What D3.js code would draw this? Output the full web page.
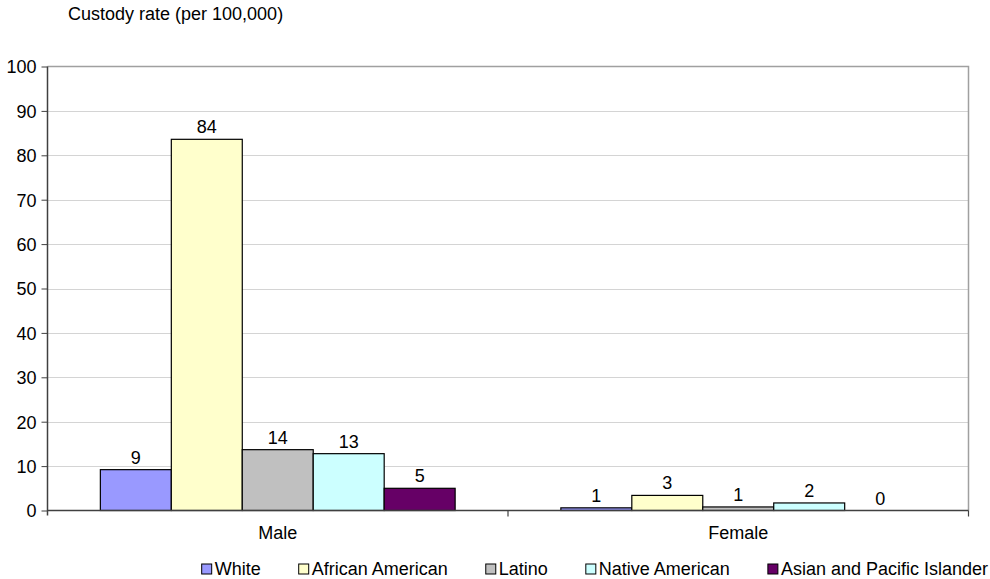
<!DOCTYPE html>
<html>
<head>
<meta charset="utf-8">
<script src="https://cdn.jsdelivr.net/npm/d3@7"></script>
<style>
  html, body { margin: 0; padding: 0; background: #fff; }
  text { font-family: "Liberation Sans", Arial, sans-serif; fill: #000; }
</style>
</head>
<body>
<svg id="chart" width="990" height="579"></svg>
<script>
const categories = ["Male", "Female"];
const seriesNames = ["White", "African American", "Latino", "Native American", "Asian and Pacific Islander"];
const seriesColors = ["#9999FF", "#FFFFCC", "#C0C0C0", "#CCFFFF", "#660066"];
const white = [9.2, 0.6];
const africanAmerican = [83.6, 3.4];
const latino = [13.7, 0.8];
const nativeAmerican = [12.8, 1.7];
const asianPacific = [5.0, 0.0];
const yTicks = [0, 10, 20, 30, 40, 50, 60, 70, 80, 90, 100];
const yTitle = "Custody rate (per 100,000)";

const seriesValues = [white, africanAmerican, latino, nativeAmerican, asianPacific];

const svg = d3.select("#chart");
const fs = 18;
const L = 47.5, R = 968.5, T = 66.5, B = 510.5;

const y = d3.scaleLinear().domain([0, 100]).range([B, T]);
const x0 = d3.scaleBand().domain(categories).range([L, R]).padding(0);
const x1 = d3.scaleBand().domain(seriesNames).range([0, x0.bandwidth()]).paddingInner(0).paddingOuter(0.745);

// title
svg.append("text").attr("x", 68).attr("y", 20).attr("font-size", fs).text(yTitle);

// gridlines
svg.append("g").selectAll("line").data(yTicks.filter(d => d > 0 && d < 100)).join("line")
  .attr("x1", L).attr("x2", R)
  .attr("y1", d => Math.round(y(d)) + 0.5).attr("y2", d => Math.round(y(d)) + 0.5)
  .attr("stroke", "#d4d4d4").attr("stroke-width", 1);

// plot border top/right
svg.append("path")
  .attr("d", `M${L},${T}H${R}V${B}`)
  .attr("fill", "none").attr("stroke", "#a0a0a0").attr("stroke-width", 1.5);

// bars
const groups = svg.append("g").selectAll("g").data(categories).join("g")
  .attr("transform", d => `translate(${x0(d)},0)`);

groups.selectAll("rect")
  .data((c, ci) => seriesNames.map((s, si) => ({ s, si, v: seriesValues[si][ci] })))
  .join("rect")
  .attr("x", d => x1(d.s))
  .attr("y", d => y(d.v))
  .attr("width", x1.bandwidth())
  .attr("height", d => B - y(d.v))
  .attr("fill", d => seriesColors[d.si])
  .attr("stroke", "#000").attr("stroke-width", 1.2);

groups.selectAll("text.lbl")
  .data((c, ci) => seriesNames.map((s, si) => ({ s, si, v: seriesValues[si][ci] })))
  .join("text").attr("class", "lbl")
  .attr("x", d => x1(d.s) + x1.bandwidth() / 2)
  .attr("y", d => y(d.v) - 6)
  .attr("text-anchor", "middle").attr("font-size", fs)
  .text(d => Math.round(d.v));

// y axis
const yAxis = d3.axisLeft(y).tickValues(yTicks).tickSize(6).tickPadding(5).tickFormat(d3.format("d"));
const gy = svg.append("g").attr("transform", `translate(${L},0)`).call(yAxis);
gy.select(".domain").attr("stroke", "#404040").attr("stroke-width", 1.5).attr("d", `M0,${T}V${B + 5}`);
gy.selectAll(".tick line").attr("stroke", "#404040");
gy.selectAll(".tick text").attr("font-size", fs).attr("font-family", "Liberation Sans, Arial, sans-serif").attr("dy", "0.35em");

// x axis
const xAxis = d3.axisBottom(x0).tickSize(0).tickPadding(16);
const gx = svg.append("g").attr("transform", `translate(0,${B})`).call(xAxis);
gx.select(".domain").attr("stroke", "#404040").attr("stroke-width", 1.5).attr("d", `M${L},0H${R}`);
gx.selectAll(".tick text").attr("font-size", fs).attr("font-family", "Liberation Sans, Arial, sans-serif");
// category separator ticks
svg.append("g").selectAll("line").data(categories.slice(1).concat(["__end"])).join("line")
  .attr("x1", d => d === "__end" ? R : x0(d)).attr("x2", d => d === "__end" ? R : x0(d))
  .attr("y1", B).attr("y2", B + 6)
  .attr("stroke", "#404040").attr("stroke-width", 1.2);

// legend (laid out from measured text widths, right end near 988)
const lg = svg.append("g").selectAll("g").data(seriesNames).join("g");
lg.append("rect").attr("x", 0).attr("y", 0).attr("width", 10).attr("height", 10)
  .attr("fill", (d, i) => seriesColors[i]).attr("stroke", "#000").attr("stroke-width", 1);
lg.append("text").attr("x", 13).attr("y", 10.5).attr("font-size", fs).text(d => d);
const widths = [];
lg.each(function () { widths.push(13 + d3.select(this).select("text").node().getComputedTextLength()); });
const gap = 38;
const total = d3.sum(widths) + gap * (widths.length - 1);
let cx = 988 - total;
lg.attr("transform", (d, i) => {
  const t = `translate(${cx},564)`;
  cx += widths[i] + gap;
  return t;
});
</script>
</body>
</html>
